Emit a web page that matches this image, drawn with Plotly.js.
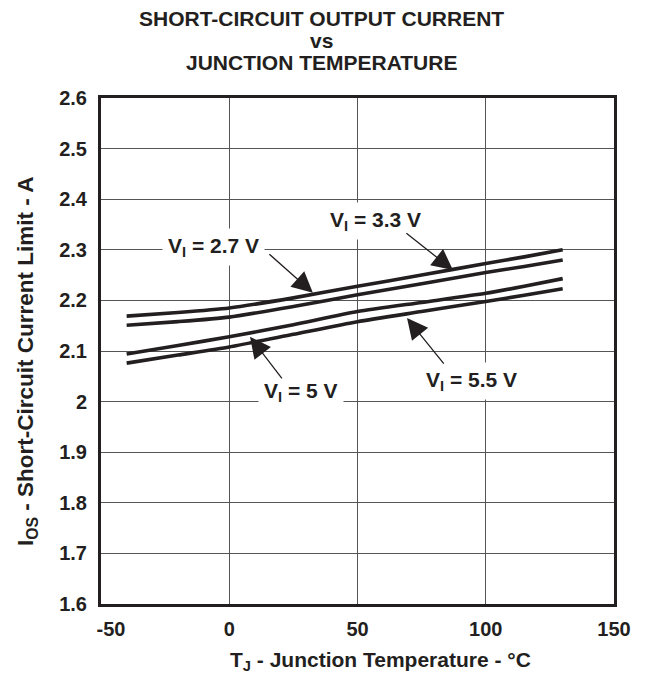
<!DOCTYPE html>
<html>
<head>
<meta charset="utf-8">
<script src="https://cdn.plot.ly/plotly-3.0.1.min.js"></script>
<style>html,body{margin:0;padding:0;background:#fff;}#chart{width:646px;height:673px;}</style>
</head>
<body>
<div id="chart"></div>
<script>
// Junction temperature (°C)
var tempC = [-40, -20, 0, 25, 50, 75, 100, 115, 130];
// Short-circuit current limit (A), one series per input voltage
var iosVI27 = [2.169, 2.176, 2.185, 2.205, 2.228, 2.250, 2.273, 2.286, 2.300];
var iosVI33 = [2.151, 2.158, 2.167, 2.188, 2.211, 2.233, 2.255, 2.267, 2.280];
var iosVI5  = [2.094, 2.111, 2.128, 2.152, 2.178, 2.196, 2.214, 2.228, 2.243];
var iosVI55 = [2.076, 2.092, 2.108, 2.133, 2.158, 2.178, 2.198, 2.210, 2.223];
var seriesNames = ['V<sub>I</sub> = 2.7 V', 'V<sub>I</sub> = 3.3 V', 'V<sub>I</sub> = 5 V', 'V<sub>I</sub> = 5.5 V'];

var xTickVals = [-50, 0, 50, 100, 150];
var xTickText = ['\u2002\u2002-50', '0', '50', '100', '150'];
var yTickVals = [1.6, 1.7, 1.8, 1.9, 2.0, 2.1, 2.2, 2.3, 2.4, 2.5, 2.6];
var yTickText = ['1.6', '1.7', '1.8', '1.9', '2', '2.1', '2.2', '2.3', '2.4', '2.5', '2.6'];

var titleLines = ['SHORT-CIRCUIT OUTPUT CURRENT', 'vs', 'JUNCTION TEMPERATURE'];
var xTitle = 'T<sub>J</sub> - Junction Temperature - °C';
var yTitle = 'I<sub>OS</sub> - Short-Circuit Current Limit - A';

var FONT = 'Liberation Sans, Arial, Helvetica, sans-serif';
var INK = '#231f20';
var allSeries = [iosVI27, iosVI33, iosVI5, iosVI55];
var traces = allSeries.map(function (ys, i) {
  return {
    x: tempC, y: ys, type: 'scatter', mode: 'lines', name: seriesNames[i],
    line: {color: INK, width: 3.6, shape: 'spline', smoothing: 0.6},
    hoverinfo: 'skip'
  };
});

// label positions (data coords) and arrow tips
var labelPos = [
  {x: -6, y: 2.305},
  {x: 57, y: 2.357},
  {x: 28, y: 2.019},
  {x: 94.5, y: 2.041}
];
var arrowTips = [
  {x: 32.6, y: 2.215, ax: -45, ay: -40},
  {x: 87.2, y: 2.260, ax: -48, ay: -38},
  {x: 8.1, y: 2.128, ax: 33, ay: 43},
  {x: 69.3, y: 2.165, ax: 38, ay: 47}
];

function px2x(px) { return (px - 101) / 513; }
function py2y(py) { return (604 - py) / 506; }

var annotations = [];
titleLines.forEach(function (t, i) {
  annotations.push({
    text: t, xref: 'paper', yref: 'paper',
    x: px2x(321), y: py2y(18 + i * 22.5),
    xanchor: 'center', yanchor: 'middle', showarrow: false,
    font: {family: FONT, size: 21, weight: 'bold', color: INK}
  });
});
annotations.push({
  text: xTitle, xref: 'paper', yref: 'paper', x: px2x(380), y: py2y(661),
  xanchor: 'center', yanchor: 'middle', showarrow: false,
  font: {family: FONT, size: 21, weight: 'bold', color: INK}
});
annotations.push({
  text: yTitle, xref: 'paper', yref: 'paper', x: px2x(27), y: py2y(362),
  xanchor: 'center', yanchor: 'middle', showarrow: false, textangle: -90,
  font: {family: FONT, size: 22.5, weight: 'bold', color: INK}
});
labelPos.forEach(function (p, i) {
  annotations.push({
    text: seriesNames[i], x: p.x, y: p.y, xref: 'x', yref: 'y',
    showarrow: false, bgcolor: '#ffffff', borderpad: 5,
    font: {family: FONT, size: 21, weight: 'bold', color: INK}
  });
});
arrowTips.forEach(function (a) {
  annotations.push({
    text: '', x: a.x, y: a.y, xref: 'x', yref: 'y', ax: a.ax, ay: a.ay,
    showarrow: true, arrowhead: 2, arrowsize: 3.2, arrowwidth: 1.3, arrowcolor: INK
  });
});

var layout = {
  width: 646, height: 673,
  margin: {l: 101, r: 32, t: 98, b: 69, pad: 0},
  paper_bgcolor: '#ffffff', plot_bgcolor: '#ffffff',
  showlegend: false,
  font: {family: FONT, color: INK, size: 20, weight: 'bold'},
  xaxis: {
    range: [-50, 150], tickvals: xTickVals, ticktext: xTickText,
    showgrid: true, gridcolor: '#555555', gridwidth: 1, zeroline: false,
    showline: true, mirror: true, linecolor: INK, linewidth: 3,
    ticks: '', ticklabelstandoff: 5,
    tickfont: {family: FONT, size: 20, weight: 'bold', color: INK}
  },
  yaxis: {
    range: [1.6, 2.6], tickvals: yTickVals, ticktext: yTickText,
    showgrid: true, gridcolor: '#555555', gridwidth: 1, zeroline: false,
    showline: true, mirror: true, linecolor: INK, linewidth: 3,
    ticks: '', ticklabelstandoff: 7,
    tickfont: {family: FONT, size: 20, weight: 'bold', color: INK}
  },
  annotations: annotations
};

Plotly.newPlot('chart', traces, layout, {staticPlot: true, displayModeBar: false});
</script>
</body>
</html>
